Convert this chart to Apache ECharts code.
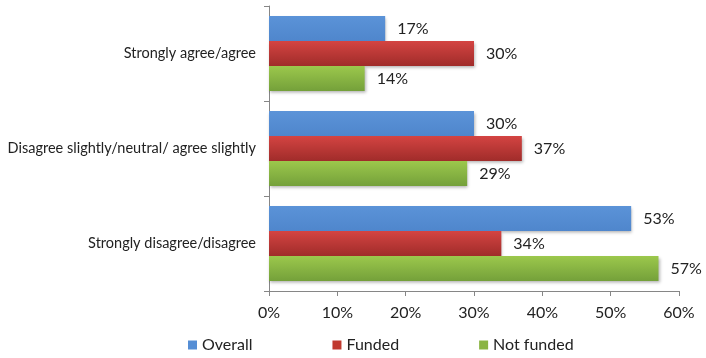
<!DOCTYPE html>
<html><head><meta charset="utf-8">
<script src="https://cdn.jsdelivr.net/npm/echarts@6/dist/echarts.min.js"></script>
<style>html,body{margin:0;padding:0;background:#fff}#c{width:706px;height:358px}</style>
</head><body><div id="c"></div>
<script>
const categories = ['Strongly agree/agree', 'Disagree slightly/neutral/ agree slightly', 'Strongly disagree/disagree'];
const overall = [17, 30, 53];
const funded = [30, 37, 34];
const notFunded = [14, 29, 57];
const seriesNames = ['Overall', 'Funded', 'Not funded'];
const xTicks = [0, 10, 20, 30, 40, 50, 60];

const font = 'Lato, "Open Sans", sans-serif';
function grad(a, b) {
  return new echarts.graphic.LinearGradient(0, 0, 0, 1, [{offset: 0, color: a}, {offset: 1, color: b}]);
}
const colors = [grad('#5b93d8', '#4f86cc'), grad('#d44442', '#a02c2a'), grad('#9cc84c', '#74a03a')];
const legendColors = ['#558ed5', '#c0392f', '#8ab443'];
const datas = [overall, funded, notFunded];

const chart = echarts.init(document.getElementById('c'));
chart.setOption({
  animation: false,
  grid: {left: 269, right: 27, top: 6, bottom: 67},
  legend: {
    bottom: 0, left: 183, itemGap: 80, itemWidth: 9, itemHeight: 9,
    icon: 'rect',
    textStyle: {fontFamily: font, fontSize: 16, color: '#222'},
    data: seriesNames.map((n, i) => ({name: n, itemStyle: {color: legendColors[i]}}))
  },
  xAxis: {
    type: 'value', min: xTicks[0], max: xTicks[xTicks.length - 1], interval: 10,
    axisLine: {show: true, lineStyle: {color: '#868686'}},
    axisTick: {show: true, length: 5, lineStyle: {color: '#868686'}},
    splitLine: {show: false},
    axisLabel: {formatter: v => v + '%', fontFamily: font, fontSize: 16, color: '#222', margin: 14}
  },
  yAxis: {
    type: 'category', data: categories, inverse: true,
    axisLine: {show: true, lineStyle: {color: '#868686'}},
    axisTick: {show: true, length: 5, lineStyle: {color: '#868686'}},
    axisLabel: {fontFamily: font, fontSize: 14.5, color: '#222', margin: 13}
  },
  series: datas.map((d, i) => ({
    name: seriesNames[i], type: 'bar', data: d,
    barGap: '0%', barCategoryGap: '21%',
    itemStyle: {color: colors[i], shadowColor: 'rgba(0,0,0,0.3)', shadowBlur: 3, shadowOffsetX: 1, shadowOffsetY: 2},
    label: {show: true, position: 'right', distance: 12, formatter: p => p.value + '%', fontFamily: font, fontSize: 16, color: '#222'}
  }))
});
</script></body></html>
